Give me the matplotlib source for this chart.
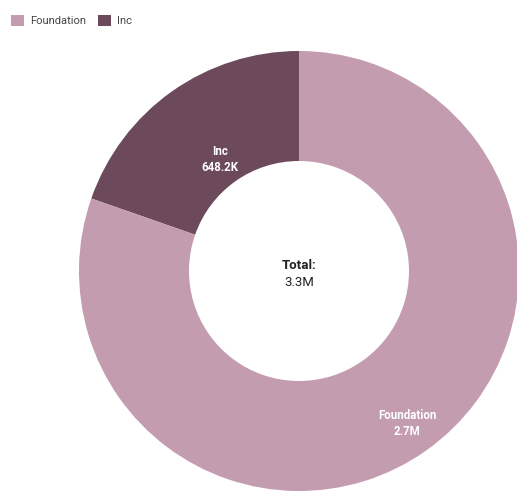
import numpy as np
import matplotlib.pyplot as plt
from matplotlib.patches import Patch

plt.rcParams["font.family"] = ["Roboto", "DejaVu Sans"]

labels = ["Foundation", "Inc"]
values = [2650000, 648200]
value_text = ["2.7M", "648.2K"]
colors = ["#c39cb0", "#6d4a5b"]
total_text = "3.3M"

# radial placement of the in-ring labels (fraction of the outer radius)
label_r = {"Foundation": 0.85, "Inc": 0.62}

fig = plt.figure(figsize=(5.17, 4.94), dpi=100)
ax = fig.add_axes([79 / 517, 3 / 494, 440 / 517, 440 / 494])

inner = 0.5
# Inc sits counter-clockwise from 12 o'clock, Foundation fills the rest
wedges, _ = ax.pie(values[::-1], colors=colors[::-1], startangle=90,
                   counterclock=True, radius=1.0,
                   wedgeprops=dict(width=1 - inner, linewidth=0))

for w, name, txt in zip(wedges, labels[::-1], value_text[::-1]):
    ang = np.deg2rad((w.theta1 + w.theta2) / 2)
    r = label_r[name]
    ax.text(r * np.cos(ang), r * np.sin(ang), f"{name}\n{txt}",
            ha="center", va="center", color="white", fontsize=8.3,
            fontweight="bold", linespacing=1.3)

ax.text(0, -0.005, "Total:", ha="center", va="bottom", fontsize=9.5,
        fontweight="bold", color="#222222")
ax.text(0, -0.025, total_text, ha="center", va="top", fontsize=9.5,
        color="#222222")

ax.set_xlim(-1, 1)
ax.set_ylim(-1, 1)
ax.set_aspect("equal")
ax.axis("off")

handles = [Patch(facecolor=c, edgecolor="none") for c in colors]
fig.legend(handles, labels, loc="upper left", bbox_to_anchor=(0.004, 0.988),
           ncol=2, frameon=False, fontsize=8, handlelength=1.2,
           handleheight=1.2, handletextpad=0.55, columnspacing=1.0,
           labelcolor="#444444", borderaxespad=0.4)

fig.savefig("out.png", dpi=100)
